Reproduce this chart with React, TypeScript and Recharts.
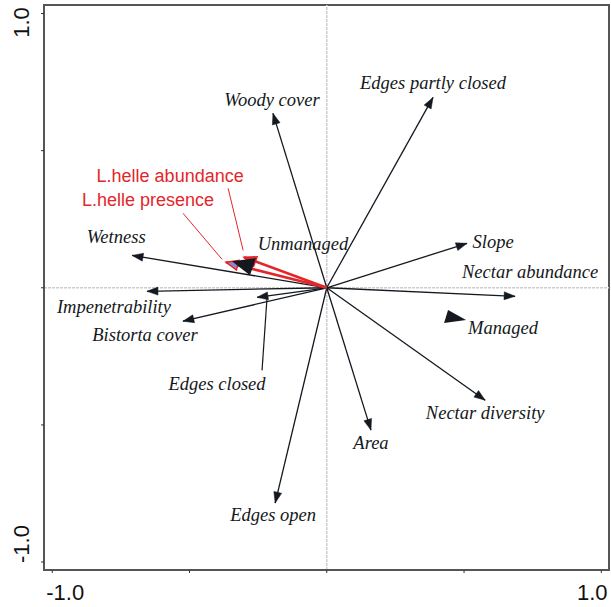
import React from "react";
import { ScatterChart, Scatter, XAxis, YAxis, ReferenceLine, ReferenceArea } from "recharts";

// environmental variables (arrows)
const variables = [
  "Woody cover",
  "Edges partly closed",
  "Slope",
  "Nectar abundance",
  "Nectar diversity",
  "Area",
  "Edges open",
  "Edges closed",
  "Bistorta cover",
  "Impenetrability",
  "Wetness",
];
const varAxis1 = [-0.196, 0.387, 0.511, 0.686, 0.577, 0.161, -0.188, -0.254, -0.524, -0.655, -0.709];
const varAxis2 = [0.636, 0.694, 0.162, -0.031, -0.41, -0.519, -0.785, -0.035, -0.122, -0.013, 0.118];

// species (red arrows)
const species = ["L.helle abundance", "L.helle presence"];
const spAxis1 = [-0.301, -0.367];
const spAxis2 = [0.111, 0.093];

// nominal variable centroids (triangles)
const classes = ["Managed", "Unmanaged"];
const classAxis1 = [0.46, -0.298];
const classAxis2 = [-0.11, 0.082];

const xTicks = [-1, -0.5, 0, 0.5, 1];
const yTicks = [-1, -0.5, 0, 0.5, 1];

const X_DOMAIN: [number, number] = [-1.03, 1.028];
const Y_DOMAIN: [number, number] = [-1.029, 1.031];

const RED = "#e3262b";
const INK = "#141820";
const SERIF = "'Liberation Serif', 'Times New Roman', serif";
const SANS = "'Liberation Sans', Arial, sans-serif";

// label placement in px relative to arrow tip / centroid
type Layout = { dx: number; dy: number; leader?: [number, number, number, number] };
const layout: Record<string, Layout> = {
  "Woody cover": { dx: -1, dy: -13 },
  "Edges partly closed": { dx: 0, dy: -14 },
  Slope: { dx: 26, dy: -1 },
  "Nectar abundance": { dx: 15, dy: -24 },
  "Nectar diversity": { dx: 0, dy: 13 },
  Area: { dx: 0, dy: 13 },
  "Edges open": { dx: -2, dy: 12 },
  "Edges closed": { dx: -40, dy: 87, leader: [10, 0, 5, 73] },
  "Bistorta cover": { dx: -38, dy: 14 },
  Impenetrability: { dx: -33, dy: 16 },
  Wetness: { dx: -16, dy: -18 },
  Managed: { dx: 50, dy: 10 },
  Unmanaged: { dx: 58, dy: -21 },
  "L.helle abundance": { dx: -74, dy: -81, leader: [-16, -69, -1, -7] },
  "L.helle presence": { dx: -78, dy: -62, leader: [-43, -49, -4, -3] },
};

const triangles: Record<string, number[][]> = {
  Managed: [[-9, 5], [-5, -8], [13, 2]],
  Unmanaged: [[-13, -4], [11, -7], [5, 10]],
};

function head(x1: number, y1: number, x2: number, y2: number, len: number, half: number) {
  const a = Math.atan2(y2 - y1, x2 - x1);
  const c = Math.cos(a);
  const s = Math.sin(a);
  const bx = x2 - len * c;
  const by = y2 - len * s;
  return `${x2},${y2} ${bx - half * s},${by + half * c} ${bx + half * s},${by - half * c}`;
}

function makeArrow(name: string, red: boolean, hollow = false) {
  const lay = layout[name];
  return (props: any) => {
    const { x1, y1, x2, y2 } = props;
    const color = red ? RED : INK;
    return (
      <g>
        <line x1={x1} y1={y1} x2={x2} y2={y2} stroke={color} strokeWidth={red ? 2.6 : 1.3} />
        <polygon
          points={head(x1, y1, x2, y2, red ? 12 : 11, red ? 5 : 4)}
          fill={hollow ? "#8f86c9" : color}
          stroke={color}
          strokeWidth={red ? 1.5 : 0.5}
        />
        {lay.leader && (
          <line
            x1={x2 + lay.leader[0]}
            y1={y2 + lay.leader[1]}
            x2={x2 + lay.leader[2]}
            y2={y2 + lay.leader[3]}
            stroke={color}
            strokeWidth={red ? 1 : 1.2}
          />
        )}
        <text
          x={x2 + lay.dx}
          y={y2 + lay.dy}
          textAnchor="middle"
          dominantBaseline="central"
          fontFamily={red ? SANS : SERIF}
          fontStyle={red ? "normal" : "italic"}
          fontSize={red ? 18 : 18.5}
          fill={color}
        >
          {name}
        </text>
      </g>
    );
  };
}

const Triangle = (props: any) => {
  const { cx, cy, payload } = props;
  const name = payload.name;
  const lay = layout[name];
  const pts = triangles[name].map(([dx, dy]) => `${cx + dx},${cy + dy}`).join(" ");
  return (
    <g>
      <polygon points={pts} fill={INK} />
      <text
        x={cx + lay.dx}
        y={cy + lay.dy}
        textAnchor="middle"
        dominantBaseline="central"
        fontFamily={SERIF}
        fontStyle="italic"
        fontSize={18.5}
        fill={INK}
      >
        {name}
      </text>
    </g>
  );
};

const XTick = (props: any) => {
  const { x, y, payload } = props;
  const v = payload.value;
  if (v !== 1 && v !== -1) return <g />;
  const shift = v === 1 ? -9 : 13;
  return (
    <text x={x + shift} y={y + 17} textAnchor="middle" dominantBaseline="central" fontFamily={SANS} fontSize={22} fill="#111">
      {v.toFixed(1)}
    </text>
  );
};

const YTick = (props: any) => {
  const { x, y, payload } = props;
  const v = payload.value;
  if (v !== 1 && v !== -1) return <g />;
  const cy = y + (v === 1 ? 9 : -18);
  const cx = x - 17;
  return (
    <text
      x={cx}
      y={cy}
      transform={`rotate(-90, ${cx}, ${cy})`}
      textAnchor="middle"
      dominantBaseline="central"
      fontFamily={SANS}
      fontSize={22}
      fill="#111"
    >
      {v.toFixed(1)}
    </text>
  );
};

export default function App() {
  const centroidData = classes.map((name, i) => ({ name, x: classAxis1[i], y: classAxis2[i] }));

  return (
    <div style={{ position: "absolute", left: 0, top: 0, background: "#fff" }}>
      <ScatterChart width={611} height={607} margin={{ top: 5, right: 2, left: 0, bottom: 0 }}>
        <XAxis
          type="number"
          dataKey="x"
          domain={X_DOMAIN}
          ticks={xTicks}
          allowDataOverflow
          height={37}
          tickSize={3}
          tick={<XTick />}
          axisLine={{ stroke: "#555", strokeWidth: 2 }}
          tickLine={{ stroke: "#333" }}
        />
        <YAxis
          type="number"
          dataKey="y"
          domain={Y_DOMAIN}
          ticks={yTicks}
          allowDataOverflow
          width={44}
          tickSize={3}
          tick={<YTick />}
          axisLine={{ stroke: "#555", strokeWidth: 2 }}
          tickLine={{ stroke: "#333" }}
        />
        <ReferenceArea
          x1={X_DOMAIN[0]}
          x2={X_DOMAIN[1]}
          y1={Y_DOMAIN[0]}
          y2={Y_DOMAIN[1]}
          fill="none"
          fillOpacity={0}
          stroke="#555"
          strokeWidth={2}
        />
        <ReferenceLine x={0} stroke="#cdcdcd" strokeWidth={1.5} strokeDasharray="3 1" />
        <ReferenceLine y={0} stroke="#cdcdcd" strokeWidth={1.5} strokeDasharray="3 1" />
        {variables.map((name, i) => (
          <ReferenceLine
            key={name}
            segment={[{ x: 0, y: 0 }, { x: varAxis1[i], y: varAxis2[i] }]}
            shape={makeArrow(name, false)}
          />
        ))}
        {species.map((name, i) => (
          <ReferenceLine
            key={name}
            segment={[{ x: 0, y: 0 }, { x: spAxis1[i], y: spAxis2[i] }]}
            shape={makeArrow(name, true, i === 1)}
          />
        ))}
        <Scatter data={centroidData} shape={<Triangle />} isAnimationActive={false} />
      </ScatterChart>
    </div>
  );
}
